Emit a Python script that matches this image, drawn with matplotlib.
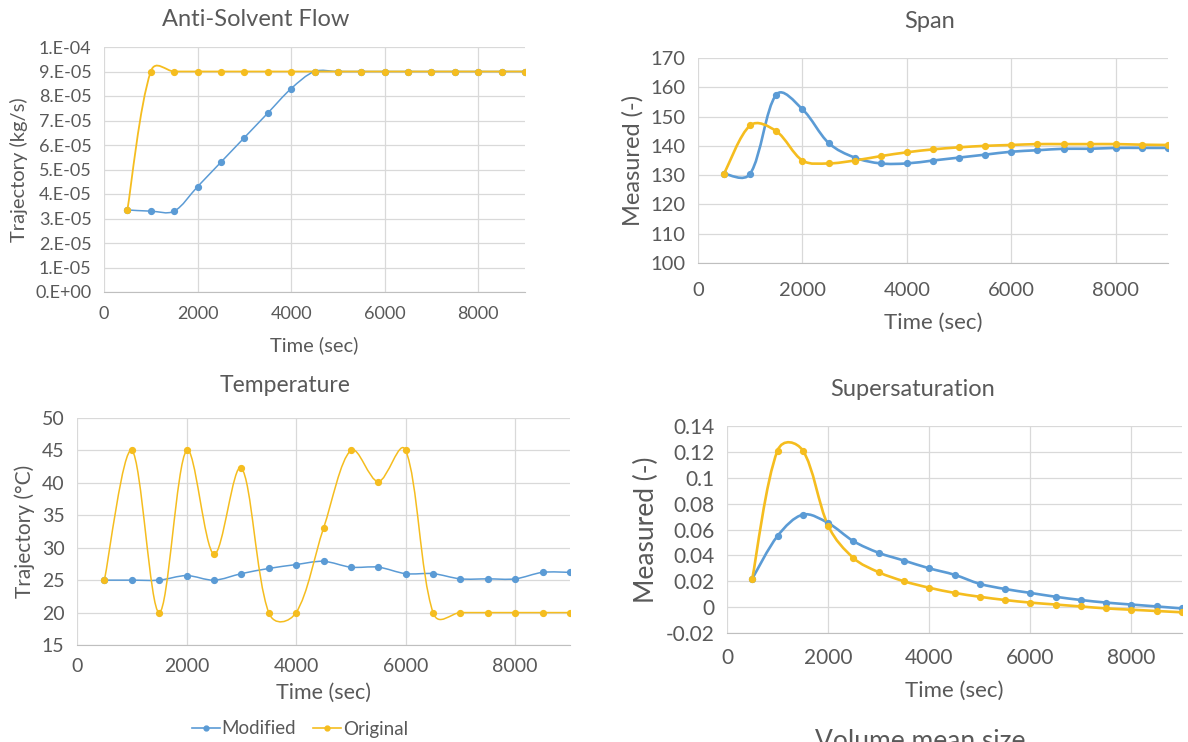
import matplotlib
matplotlib.use("Agg")
import matplotlib.pyplot as plt
from matplotlib.path import Path
from matplotlib.patches import PathPatch
from matplotlib.lines import Line2D
import numpy as np

plt.rcParams['font.family'] = ['Lato', 'DejaVu Sans']

# ---------------- data ----------------
time = [500, 1000, 1500, 2000, 2500, 3000, 3500, 4000, 4500,
        5000, 5500, 6000, 6500, 7000, 7500, 8000, 8500, 9000]

flow_modified = [3.35e-5, 3.3e-5, 3.3e-5, 4.3e-5, 5.3e-5, 6.3e-5, 7.3e-5, 8.3e-5, 9.0e-5,
                 9.0e-5, 9.0e-5, 9.0e-5, 9.0e-5, 9.0e-5, 9.0e-5, 9.0e-5, 9.0e-5, 9.0e-5]
flow_original = [3.35e-5, 9.0e-5, 9.0e-5, 9.0e-5, 9.0e-5, 9.0e-5, 9.0e-5, 9.0e-5, 9.0e-5,
                 9.0e-5, 9.0e-5, 9.0e-5, 9.0e-5, 9.0e-5, 9.0e-5, 9.0e-5, 9.0e-5, 9.0e-5]
flow_ticks = [0, 1e-5, 2e-5, 3e-5, 4e-5, 5e-5, 6e-5, 7e-5, 8e-5, 9e-5, 1e-4]
flow_ticklabels = ['0.E+00', '1.E-05', '2.E-05', '3.E-05', '4.E-05', '5.E-05',
                   '6.E-05', '7.E-05', '8.E-05', '9.E-05', '1.E-04']

span_modified = [130.5, 130.5, 157.5, 152.5, 141.0, 136.0, 134.0, 134.0, 135.0,
                 136.0, 137.0, 138.0, 138.5, 139.0, 139.0, 139.3, 139.3, 139.3]
span_original = [130.5, 147.0, 145.0, 135.0, 134.0, 135.0, 136.5, 137.8, 138.8,
                 139.5, 140.0, 140.3, 140.6, 140.6, 140.6, 140.6, 140.4, 140.3]

temp_modified = [25.0, 25.0, 25.0, 25.7, 25.0, 26.0, 26.8, 27.4, 27.9,
                 27.0, 27.0, 26.0, 26.0, 25.2, 25.2, 25.2, 26.2, 26.2]
temp_original = [25.0, 45.0, 20.0, 45.0, 29.0, 42.3, 20.0, 20.0, 33.0,
                 45.0, 40.2, 45.0, 20.0, 20.0, 20.0, 20.0, 20.0, 20.0]

super_modified = [0.022, 0.055, 0.0715, 0.065, 0.051, 0.042, 0.036, 0.030, 0.025,
                  0.018, 0.014, 0.011, 0.008, 0.0055, 0.0035, 0.002, 0.0005, -0.001]
super_original = [0.022, 0.121, 0.121, 0.063, 0.038, 0.027, 0.020, 0.015, 0.011,
                  0.008, 0.0055, 0.0035, 0.002, 0.0005, -0.001, -0.002, -0.003, -0.004]
super_ticks = [-0.02, 0, 0.02, 0.04, 0.06, 0.08, 0.1, 0.12, 0.14]
super_ticklabels = ['-0.02', '0', '0.02', '0.04', '0.06', '0.08', '0.1', '0.12', '0.14']

series_names = ['Modified', 'Original']
BLUE = '#5B9BD5'
GOLD = '#F5BD1F'
GRID = '#D9D9D9'
TXT = '#595959'

W, H = 1188, 742
fig = plt.figure(figsize=(W / 100, H / 100), dpi=100)


def px_axes(l, t, r, b):
    return fig.add_axes([l / W, 1 - b / H, (r - l) / W, (b - t) / H])


def smooth(ax, x, y, color, lw):
    """Excel-like smoothed line: cubic Bezier through the data points,
    tangents scaled by neighbouring segment lengths in screen space."""
    n = len(x)
    P = ax.transData.transform(np.column_stack([x, y]))
    d = np.hypot(np.diff(P[:, 0]), np.diff(P[:, 1]))
    sd = np.sqrt(d)
    verts = [(x[0], y[0])]
    codes = [Path.MOVETO]
    for i in range(n - 1):
        if i == 0:
            tx, ty, f1 = x[1] - x[0], y[1] - y[0], 1 / 6.0
        else:
            tx, ty = x[i + 1] - x[i - 1], y[i + 1] - y[i - 1]
            f1 = (1 / 3.0) * sd[i] / (sd[i - 1] + sd[i])
        c1 = (x[i] + tx * f1, y[i] + ty * f1)
        j = i + 1
        if j == n - 1:
            tx, ty, f2 = x[j] - x[j - 1], y[j] - y[j - 1], 1 / 6.0
        else:
            tx, ty = x[j + 1] - x[j - 1], y[j + 1] - y[j - 1]
            f2 = (1 / 3.0) * sd[j - 1] / (sd[j - 1] + sd[j])
        c2 = (x[j] - tx * f2, y[j] - ty * f2)
        verts += [c1, c2, (x[j], y[j])]
        codes += [Path.CURVE4] * 3
    ax.add_patch(PathPatch(Path(verts, codes), facecolor='none', edgecolor=color,
                           lw=lw, capstyle='round', joinstyle='round', zorder=3))
    ax.plot(x, y, linestyle='none', marker='o', ms=4.2, color=color, zorder=4)


def style(ax, ylim, yticks, ylabel, ylsize, ticksize, xlsize, xl_pad, xpad,
          yticklabels=None):
    ax.set_xlim(0, 9000)
    ax.set_ylim(*ylim)
    ax.set_xticks([0, 2000, 4000, 6000, 8000])
    ax.set_yticks(yticks)
    if yticklabels is not None:
        ax.set_yticklabels(yticklabels)
    ax.grid(True, color=GRID, lw=0.9)
    ax.set_axisbelow(True)
    for s in ['top', 'right', 'left']:
        ax.spines[s].set_visible(False)
    ax.spines['bottom'].set_color('#BFBFBF')
    ax.tick_params(length=0, labelsize=ticksize, labelcolor=TXT, pad=9)
    ax.tick_params(axis='x', pad=xpad)
    ax.set_xlabel('Time (sec)', fontsize=xlsize, color=TXT, labelpad=xl_pad)
    ax.set_ylabel(ylabel, fontsize=ylsize, color=TXT, labelpad=5)


def title(xpx, ypx, text, size):
    fig.text(xpx / W, 1 - ypx / H, text, fontsize=size, color=TXT,
             ha='center', va='center')


# Anti-Solvent Flow
ax1 = px_axes(104, 47, 525, 292)
style(ax1, (0, 1e-4), flow_ticks, 'Trajectory (kg/s)', 14.5, 13, 14.5, 10, 10,
      flow_ticklabels)
smooth(ax1, time, flow_modified, BLUE, 1.1)
smooth(ax1, time, flow_original, GOLD, 1.3)
title(256, 20, 'Anti-Solvent Flow', 17)

# Span
ax2 = px_axes(698, 58, 1168, 263)
style(ax2, (100, 170), [100, 110, 120, 130, 140, 150, 160, 170],
      'Measured (-)', 17, 14.5, 16, 10, 14)
smooth(ax2, time, span_modified, BLUE, 1.9)
smooth(ax2, time, span_original, GOLD, 1.9)
title(930, 22, 'Span', 17)

# Temperature
ax3 = px_axes(77, 418, 570, 645)
style(ax3, (15, 50), [15, 20, 25, 30, 35, 40, 45, 50],
      'Trajectory (°C)', 15, 14, 15.5, 6, 9)
smooth(ax3, time, temp_modified, BLUE, 1.1)
smooth(ax3, time, temp_original, GOLD, 1.1)
title(285, 385, 'Temperature', 16.5)

# Supersaturation
ax4 = px_axes(727, 426, 1182, 633)
style(ax4, (-0.02, 0.14), super_ticks, 'Measured (-)', 19, 15, 16, 9, 11,
      super_ticklabels)
smooth(ax4, time, super_modified, BLUE, 1.9)
smooth(ax4, time, super_original, GOLD, 1.9)
title(913, 390, 'Supersaturation', 17)

# legend
handles = [Line2D([], [], color=c, marker='o', ms=3.5, lw=1.2)
           for c in (BLUE, GOLD)]
fig.legend(handles, series_names, loc='center', bbox_to_anchor=(300 / W, 1 - 729 / H),
           ncol=2, frameon=False, fontsize=13.5, labelcolor=TXT, handlelength=1.5,
           handletextpad=0.1, columnspacing=0.9)

# partially visible title of the next chart
fig.text(920 / W, 1 - 749 / H, 'Volume mean size', fontsize=19, color=TXT,
         ha='center', va='baseline')

fig.savefig('out.png', dpi=100)
